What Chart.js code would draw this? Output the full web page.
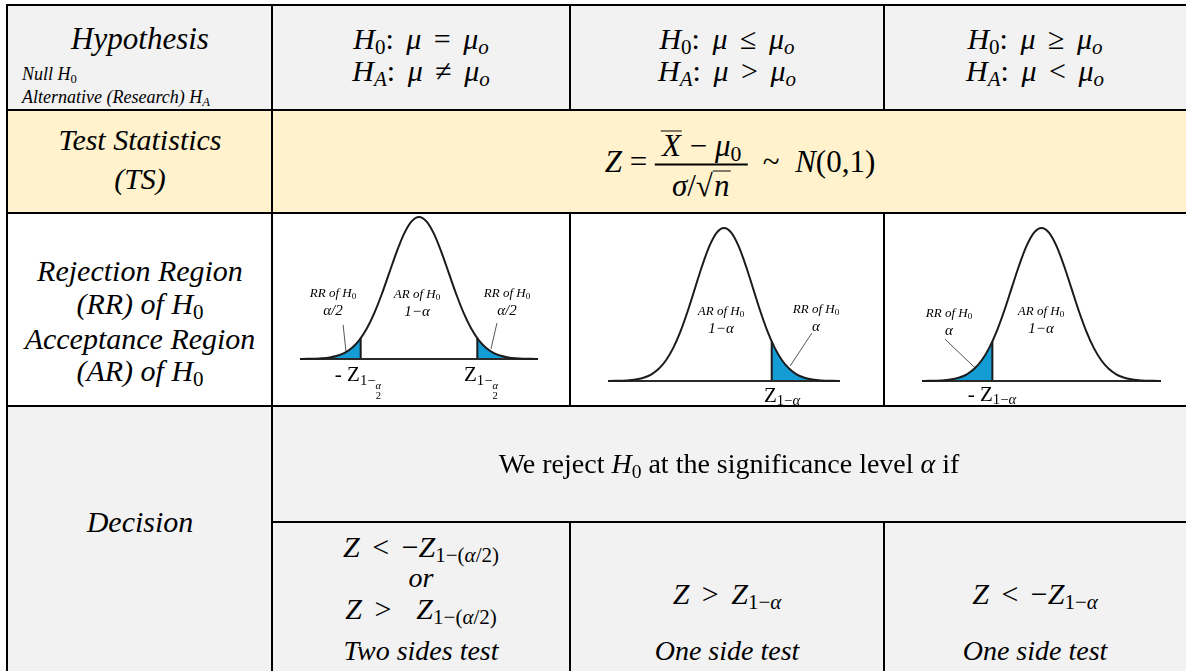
<!DOCTYPE html>
<html><head><meta charset="utf-8">
<script src="https://cdn.jsdelivr.net/npm/chart.js@4.4.1/dist/chart.umd.min.js"></script>
<style>
html,body{margin:0;padding:0;background:#fff;}
body{width:1186px;height:671px;position:relative;overflow:hidden;font-family:"Liberation Serif","Tinos","Times New Roman","DejaVu Serif","Noto Serif",serif;color:#000;}
.bg,.ln,.t,.l,canvas{position:absolute;}
.ln{background:#000;z-index:3;}
canvas{z-index:2;}
.t{transform:translate(-50%,-50%);white-space:nowrap;line-height:1;z-index:5;}
.l{white-space:nowrap;line-height:1;z-index:5;transform:translateY(-50%);}
.it{font-style:italic;}
.mx{font-size:30px;word-spacing:5px;}
sub{font-size:0.7em;vertical-align:-0.25em;line-height:0;font-style:normal;word-spacing:0;}
sub i{font-style:italic;}
.frac{display:inline-flex;flex-direction:column;align-items:center;vertical-align:middle;}
.num{padding:0 6px 3px 6px;border-bottom:2px solid #000;}
.den{padding-top:4px;}
.ov{display:inline-block;border-top:1.5px solid #000;line-height:0.9;padding:0 1px;}
.sf{display:inline-flex;flex-direction:column;align-items:center;vertical-align:-0.4em;font-size:0.72em;line-height:0.95;}
.sf span:first-child{border-bottom:1px solid #000;padding:0 1px;}
.small{font-size:13px;font-style:italic;text-align:center;line-height:1.2;}
.small .b{font-size:15px;}
</style></head><body>

<div class="bg" style="left:7px;top:5px;width:1179px;height:105px;background:#f2f2f2"></div>
<div class="bg" style="left:7px;top:110px;width:1179px;height:103px;background:#fff2cc"></div>
<div class="bg" style="left:7px;top:213px;width:1179px;height:193px;background:#ffffff"></div>
<div class="bg" style="left:7px;top:406px;width:1179px;height:265px;background:#f2f2f2"></div>

<canvas id="c1" width="262" height="166" style="left:288px;top:205px"></canvas>
<canvas id="c2" width="256" height="177" style="left:596px;top:216px"></canvas>
<canvas id="c3" width="263" height="177" style="left:910px;top:216px"></canvas>

<!-- grid lines -->
<div class="ln" style="left:6px;top:4px;width:1180px;height:2px"></div>
<div class="ln" style="left:6px;top:4px;width:2px;height:667px"></div>
<div class="ln" style="left:6px;top:109px;width:1180px;height:2px"></div>
<div class="ln" style="left:6px;top:212px;width:1180px;height:2px"></div>
<div class="ln" style="left:6px;top:405px;width:1180px;height:2px"></div>
<div class="ln" style="left:271px;top:521px;width:915px;height:2px"></div>
<div class="ln" style="left:271px;top:4px;width:2px;height:667px"></div>
<div class="ln" style="left:569px;top:4px;width:2px;height:106px"></div>
<div class="ln" style="left:883px;top:4px;width:2px;height:106px"></div>
<div class="ln" style="left:569px;top:212px;width:2px;height:195px"></div>
<div class="ln" style="left:883px;top:212px;width:2px;height:195px"></div>
<div class="ln" style="left:569px;top:521px;width:2px;height:150px"></div>
<div class="ln" style="left:883px;top:521px;width:2px;height:150px"></div>

<!-- header row -->
<div class="t it" style="left:140px;top:38px;font-size:31px">Hypothesis</div>
<div class="l it" style="left:22px;top:74px;font-size:18px">Null H<sub>0</sub></div>
<div class="l it" style="left:22px;top:97px;font-size:18px">Alternative (Research) H<sub><i>A</i></sub></div>

<div class="t mx" style="left:421px;top:39px"><i>H</i><sub>0</sub>: <i>μ</i> = <i>μ</i><sub><i>o</i></sub></div>
<div class="t mx" style="left:421px;top:71px"><i>H</i><sub><i>A</i></sub>: <i>μ</i> ≠ <i>μ</i><sub><i>o</i></sub></div>
<div class="t mx" style="left:727px;top:39px"><i>H</i><sub>0</sub>: <i>μ</i> ≤ <i>μ</i><sub><i>o</i></sub></div>
<div class="t mx" style="left:727px;top:71px"><i>H</i><sub><i>A</i></sub>: <i>μ</i> &gt; <i>μ</i><sub><i>o</i></sub></div>
<div class="t mx" style="left:1035px;top:39px"><i>H</i><sub>0</sub>: <i>μ</i> ≥ <i>μ</i><sub><i>o</i></sub></div>
<div class="t mx" style="left:1035px;top:71px"><i>H</i><sub><i>A</i></sub>: <i>μ</i> &lt; <i>μ</i><sub><i>o</i></sub></div>

<!-- test statistic row -->
<div class="t it" style="left:140px;top:140px;font-size:30px">Test Statistics</div>
<div class="t it" style="left:140px;top:179px;font-size:30px">(TS)</div>
<div class="t" style="left:740px;top:165px;font-size:31px"><i>Z</i> = <span class="frac"><span class="num"><i class="ov">X</i> − <i>μ</i><sub>0</sub></span><span class="den"><i>σ</i>/√<i class="ov">n</i></span></span> &nbsp;~&nbsp; <i>N</i>(0,1)</div>

<!-- RR row -->
<div class="t it" style="left:140px;top:271px;font-size:30px">Rejection Region</div>
<div class="t it" style="left:140px;top:304px;font-size:30px">(RR) of H<sub>0</sub></div>
<div class="t it" style="left:140px;top:339px;font-size:30px">Acceptance Region</div>
<div class="t it" style="left:140px;top:371px;font-size:30px">(AR) of H<sub>0</sub></div>

<!-- chart 1 labels -->
<div class="t small" style="left:333px;top:302px">RR of H<sub>0</sub><br><span class="b"><i>α</i>/2</span></div>
<div class="t small" style="left:417px;top:303px">AR of H<sub>0</sub><br><span class="b">1−<i>α</i></span></div>
<div class="t small" style="left:507px;top:302px">RR of H<sub>0</sub><br><span class="b"><i>α</i>/2</span></div>
<div class="t" style="left:358px;top:382px;font-size:21px">- Z<sub>1−<span class="sf"><i>α</i><span>2</span></span></sub></div>
<div class="t" style="left:481px;top:382px;font-size:21px">Z<sub>1−<span class="sf"><i>α</i><span>2</span></span></sub></div>

<!-- chart 2 labels -->
<div class="t small" style="left:721px;top:320px">AR of H<sub>0</sub><br><span class="b">1−<i>α</i></span></div>
<div class="t small" style="left:816px;top:318px">RR of H<sub>0</sub><br><span class="b"><i>α</i></span></div>
<div class="t" style="left:782px;top:395px;font-size:21px">Z<sub>1−<i>α</i></sub></div>

<!-- chart 3 labels -->
<div class="t small" style="left:949px;top:322px">RR of H<sub>0</sub><br><span class="b"><i>α</i></span></div>
<div class="t small" style="left:1041px;top:320px">AR of H<sub>0</sub><br><span class="b">1−<i>α</i></span></div>
<div class="t" style="left:992px;top:394px;font-size:21px">- Z<sub>1−<i>α</i></sub></div>

<!-- decision -->
<div class="t it" style="left:140px;top:522px;font-size:30px">Decision</div>
<div class="t" style="left:729px;top:464px;font-size:28px">We reject <i>H</i><sub>0</sub> at the significance level <i>α</i> if</div>
<div class="t mx" style="left:421px;top:547px"><i>Z</i> &lt; −<i>Z</i><sub>1−(<i>α</i>/2)</sub></div>
<div class="t it" style="left:421px;top:578px;font-size:28px">or</div>
<div class="t mx" style="left:421px;top:609px"><i>Z</i> &gt; &nbsp;<i>Z</i><sub>1−(<i>α</i>/2)</sub></div>
<div class="t it" style="left:421px;top:651px;font-size:28px">Two sides test</div>
<div class="t mx" style="left:727px;top:594px"><i>Z</i> &gt; <i>Z</i><sub>1−<i>α</i></sub></div>
<div class="t it" style="left:727px;top:651px;font-size:28px">One side test</div>
<div class="t mx" style="left:1035px;top:594px"><i>Z</i> &lt; −<i>Z</i><sub>1−<i>α</i></sub></div>
<div class="t it" style="left:1035px;top:651px;font-size:28px">One side test</div>

<script>
// pick an installed serif face if there is one
(function () {
  const cands = ["Liberation Serif","Tinos","Times New Roman","Times","Nimbus Roman","Nimbus Roman No9 L","FreeSerif","DejaVu Serif","Noto Serif","STIX Two Text","Georgia","PT Serif","Source Serif Pro","Gelasio","Bitstream Charter","Charter","Lora","Merriweather"];
  const ctx = document.createElement('canvas').getContext('2d');
  const s = 'Hypothesis Wgiqfl 0123';
  ctx.font = '40px monospace';
  const mono = ctx.measureText(s).width;
  for (const f of cands) {
    ctx.font = '40px "' + f + '", monospace';
    if (Math.abs(ctx.measureText(s).width - mono) > 0.5) {
      document.body.style.fontFamily = '"' + f + '", serif';
      break;
    }
  }
})();

// standard normal curve, z grid and density values
const zGrid = [-4,-3.75,-3.5,-3.25,-3,-2.75,-2.5,-2.25,-2,-1.75,-1.5,-1.25,-1,-0.75,-0.5,-0.25,0,0.25,0.5,0.75,1,1.25,1.5,1.75,2,2.25,2.5,2.75,3,3.25,3.5,3.75,4];
const density = [0.0001,0.0004,0.0009,0.0020,0.0044,0.0091,0.0175,0.0317,0.0540,0.0863,0.1295,0.1826,0.2420,0.3011,0.3521,0.3867,0.3989,0.3867,0.3521,0.3011,0.2420,0.1826,0.1295,0.0863,0.0540,0.0317,0.0175,0.0091,0.0044,0.0020,0.0009,0.0004,0.0001];
// critical values and curve heights there
const critTwoSided = 1.96, densTwoSided = 0.0584;
const critOneSided = 1.645, densOneSided = 0.1031;
// rejection tails per panel: [from, to]
const tailsTwo = [[-4, -critTwoSided], [critTwoSided, 4]];
const tailsRight = [[critOneSided, 4]];
const tailsLeft = [[-4, -critOneSided]];
// label leader lines (z, density) start -> end
const leadersTwo = [[-2.55, 0.096, -2.45, 0.017], [2.62, 0.101, 2.42, 0.028]];
const leadersRight = [[3.03, 0.125, 2.28, 0.039]];
const leadersLeft = [[-3.23, 0.109, -2.22, 0.034]];

const curvePts = zGrid.map((z, i) => ({x: z, y: density[i]}));
function cutHeight(c) { return Math.abs(c) === critTwoSided ? densTwoSided : densOneSided; }
function tailPoints(a, b) {
  const pts = [];
  zGrid.forEach((z, i) => { if (z >= a && z <= b) pts.push({x: z, y: density[i]}); });
  if (Math.abs(a) !== 4) pts.unshift({x: a, y: cutHeight(a)});
  if (Math.abs(b) !== 4) pts.push({x: b, y: cutHeight(b)});
  return pts;
}
function build(id, tails, leaders) {
  const ds = [];
  tails.forEach(t => ds.push({data: tailPoints(t[0], t[1]), borderWidth: 0, borderColor: 'rgba(0,0,0,0)', backgroundColor: '#149cd4', fill: 'origin', cubicInterpolationMode: 'monotone', clip: false, order: 3}));
  ds.push({data: curvePts, borderColor: '#1b1b1b', borderWidth: 2, fill: false, cubicInterpolationMode: 'monotone', clip: false, order: 1});
  ds.push({data: [{x: zGrid[0], y: 0}, {x: zGrid[zGrid.length - 1], y: 0}], borderColor: '#2a2a2a', borderWidth: 2, fill: false, clip: false, order: 1});
  tails.forEach(t => {
    const c = Math.abs(t[0]) === 4 ? t[1] : t[0];
    ds.push({data: [{x: c, y: 0}, {x: c, y: cutHeight(c)}], borderColor: '#1b1b1b', borderWidth: 2, fill: false, clip: false, order: 1});
  });
  leaders.forEach(l => ds.push({data: [{x: l[0], y: l[1]}, {x: l[2], y: l[3]}], borderColor: '#555', borderWidth: 1, fill: false, clip: false, order: 1}));
  new Chart(document.getElementById(id), {
    type: 'line',
    data: {datasets: ds},
    options: {
      responsive: false, animation: false, devicePixelRatio: 1,
      layout: {padding: 12},
      elements: {point: {radius: 0}},
      plugins: {legend: {display: false}, tooltip: {enabled: false}},
      scales: {
        x: {type: 'linear', min: -4, max: 4, display: false},
        y: {type: 'linear', min: 0, max: 0.3989, display: false}
      }
    }
  });
}
build('c1', tailsTwo, leadersTwo);
build('c2', tailsRight, leadersRight);
build('c3', tailsLeft, leadersLeft);
</script>
</body></html>
